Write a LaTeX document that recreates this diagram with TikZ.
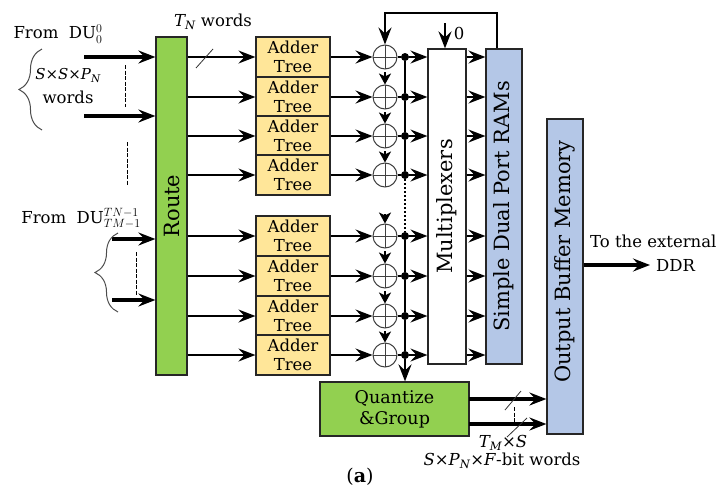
\documentclass[tikz,border=0pt]{standalone}
\usepackage{fontspec}
\setmainfont{DejaVu Serif}
\usepackage{xcolor}
\usepackage{tikz}
\usetikzlibrary{arrows.meta,decorations.pathreplacing}
\definecolor{routegreen}{HTML}{92D050}
\definecolor{adderyellow}{HTML}{FFE699}
\definecolor{ramblue}{HTML}{B4C7E7}
\tikzset{
    >={Stealth[length=17pt,width=13pt,inset=6pt]},
    lbl/.style={inner sep=0pt,font=\fontsize{16.5}{19}\selectfont,align=center},
    box/.style={draw=black!85,line width=1.2pt,inner sep=0pt,font=\fontsize{21}{23}\selectfont},
    addertree/.style={box,fill=adderyellow,minimum width=74pt,minimum height=40pt,align=center,
        font=\fontsize{16.5}{18.5}\selectfont},
    sumnode/.style={circle,draw=black!75,line width=1pt,minimum size=24pt,inner sep=0pt,
        path picture={\draw[line width=1pt,black!75]
            (path picture bounding box.north) -- (path picture bounding box.south)
            (path picture bounding box.west) -- (path picture bounding box.east);}},
    jdot/.style={circle,fill=black,minimum size=8pt,inner sep=0pt},
    sig/.style={line width=2pt},
    shortsig/.style={line width=2pt,-{Stealth[length=11pt,width=12pt,inset=3pt]}},
    widesig/.style={line width=3.2pt},
    dashsig/.style={line width=1pt,dashed,dash pattern=on 4pt off 1.5pt},
    slashmark/.style={line width=.8pt,black!80},
    bracket/.style={decorate,decoration={brace,amplitude=23pt},line width=1pt,black!70}
}
\begin{document}
\begin{tikzpicture}[x=1pt,y=-1pt]
    \useasboundingbox (0,0) rectangle (719,490);
    % blocks
    \node[box,fill=routegreen,rotate=90,minimum width=338pt,minimum height=31pt] (route) at (171.5,206) {Route};
    \node[box,fill=white,rotate=90,minimum width=315pt,minimum height=38pt] (mux) at (447,206.5) {Multiplexers};
    \node[box,fill=ramblue,rotate=90,minimum width=315pt,minimum height=36pt] (ram) at (504,206.5) {Simple Dual Port RAMs};
    \node[box,fill=ramblue,rotate=90,minimum width=315pt,minimum height=36pt] (outbuf) at (565,276.5) {\hspace*{30pt}Output Buffer Memory};
    \node[box,fill=routegreen,minimum width=149pt,minimum height=54pt,align=center,
        font=\fontsize{17.5}{21}\selectfont] (quant) at (394.5,409) {Quantize\\\&Group};
    % adder rows
    \foreach \n/\y in {1/57,2/97,3/136,4/175,5/236,6/276,7/316,8/355}{
        \node[addertree] (adder\n) at (293,\y) {Adder\\Tree};
        \node[sumnode] (sum\n) at (385,\y) {};
        \node[jdot] (junc\n) at (405,\y) {};
        \draw[sig,->] (adder\n.west -| route.south) -- (adder\n.west);
        \draw[sig,->] (adder\n.east) -- (sum\n.west);
        \draw[sig] (sum\n.east) -- (junc\n);
        \draw[sig,->] (junc\n) -- (junc\n -| mux.north);
        \draw[sig,->] (junc\n -| mux.south) -- (junc\n -| ram.north);
    }
    \foreach \a/\b in {1/2,2/3,3/4,5/6,6/7,7/8}{
        \draw[shortsig] (sum\a) ++(0,15) -- (sum\b.north);
        \draw[sig] (junc\a) -- (junc\b);
    }
    \draw[line width=2pt,dotted] (junc4) -- (junc5);
    \coordinate (sumstub) at (385,214);
    \draw[shortsig] (sumstub) -- (sum5.north);
    \draw[line width=2.4pt,->] (junc8) -- (junc8 |- quant.north);
    % feedback and constant
    \coordinate (backtop) at (497,13);
    \draw[line width=2.4pt,->] (ram.east -| backtop) -- (backtop) -| (sum1.north);
    \coordinate (zerotop) at (445,23);
    \draw[line width=2.4pt,->] (zerotop) -- (zerotop |- mux.east);
    \node[lbl] (zerolbl) at (459,33) {0};
    % inputs
    \coordinate (ina) at (84,57);
    \coordinate (inb) at (84,116);
    \coordinate (inc) at (112,239);
    \coordinate (ind) at (112,300);
    \foreach \p in {ina,inb,inc,ind}
        \draw[widesig,->] (\p) -- (\p -| route.north);
    \coordinate (dasha) at (125,65);
    \coordinate (dashb) at (125,107);
    \coordinate (dashc) at (127,142);
    \coordinate (dashd) at (127,185);
    \coordinate (dashe) at (136,252);
    \coordinate (dashf) at (136,295);
    \draw[dashsig] (dasha) -- (dashb);
    \draw[dashsig] (dashc) -- (dashd);
    \draw[dashsig] (dashe) -- (dashf);
    \coordinate (bracea) at (42,130);
    \coordinate (braceb) at (42,49);
    \coordinate (bracec) at (118,312);
    \coordinate (braced) at (118,233);
    \draw[bracket] (bracea) -- (braceb);
    \draw[bracket] (bracec) -- (braced);
    % outputs
    \coordinate (extout) at (650,265);
    \draw[widesig,->] (extout -| outbuf.south) -- (extout);
    \coordinate (qa) at (469,399);
    \coordinate (qb) at (469,424);
    \draw[widesig,->] (qa) -- (qa -| outbuf.north);
    \draw[widesig,->] (qb) -- (qb -| outbuf.north);
    % slashes
    \coordinate (slasha) at (196,68);
    \coordinate (slashb) at (213,49);
    \coordinate (slashc) at (505,410);
    \coordinate (slashd) at (521,391);
    \coordinate (slashe) at (507,437);
    \coordinate (slashf) at (527,418);
    \draw[slashmark] (slasha) -- (slashb);
    \draw[slashmark] (slashc) -- (slashd);
    \draw[slashmark] (slashe) -- (slashf);
    \coordinate (dashg) at (514,407);
    \coordinate (dashh) at (514,422);
    \draw[dashsig] (dashg) -- (dashh);
    % labels
    \node[lbl] (fromfirst) at (58,34) {From\ \ DU$_0^0$};
    \node[lbl,font=\fontsize{15}{19}\selectfont] (wordsa) at (68,86) {\textit{S}×\textit{S}×\textit{P\textsubscript{N}}\\[5pt]{\fontsize{16.5}{19}\selectfont words}};
    \node[lbl] (tnwords) at (213,22) {\textit{T\textsubscript{N}} words};
    \node[lbl] (fromlast) at (81,218) {From\ \ DU$_{TM-1}^{TN-1}$};
    \node[lbl,anchor=west] (extlbl) at (590,241) {To the external};
    \node[lbl,anchor=west] (ddrlbl) at (656,265) {DDR};
    \node[lbl] (tmlbl) at (503,443) {\textit{T\textsubscript{M}}×\textit{S}};
    \node[lbl] (bitlbl) at (502,461) {\textit{S}×\textit{P\textsubscript{N}}×\textit{F}-bit words};
    \node[lbl,font=\fontsize{19}{21}\selectfont] (sublbl) at (360,477) {(\textbf{a})};
\end{tikzpicture}
\end{document}
